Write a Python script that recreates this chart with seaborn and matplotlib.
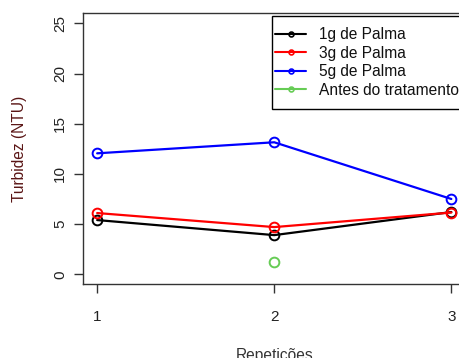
import matplotlib
matplotlib.use("Agg")
import matplotlib.pyplot as plt
import seaborn as sns
import pandas as pd
from matplotlib.lines import Line2D
from matplotlib.patches import Rectangle

sns.set_theme(style="white")
plt.rcParams['font.family'] = ['Liberation Sans', 'DejaVu Sans']

repeticoes = [1, 2, 3]
palma_1g = [5.4, 3.9, 6.2]
palma_3g = [6.1, 4.7, 6.15]
palma_5g = [12.05, 13.15, 7.5]
antes_x = [2]
antes = [1.2]

series_names = ["1g de Palma", "3g de Palma", "5g de Palma", "Antes do tratamento"]
series_colors = ["#000000", "#ff0000", "#0000ff", "#66cc55"]

W, H = 459, 358
fig = plt.figure(figsize=(4.59, 3.58), dpi=100)
ax = fig.add_axes([83 / W, (H - 284.3) / H, (465.5 - 83) / W, (284.3 - 13.3) / H])

data = [(repeticoes, palma_1g), (repeticoes, palma_3g), (repeticoes, palma_5g), (antes_x, antes)]
for (xs, ys), name, col in zip(data, series_names, series_colors):
    df = pd.DataFrame({"x": xs, "y": ys})
    sns.lineplot(data=df, x="x", y="y", ax=ax, color=col, lw=1.6,
                 marker="o", markersize=7, markerfacecolor="none",
                 markeredgecolor=col, markeredgewidth=1.4, legend=False)

ax.set_xlim(0.92, 3.08)
ax.set_ylim(-1, 26)
ax.set_xticks([1, 2, 3])
ax.set_yticks([0, 5, 10, 15, 20, 25])
ax.tick_params(axis="both", direction="out", length=6.5, width=1, color="#333333",
               labelsize=11, labelcolor="#222222", left=True, bottom=True)
ax.tick_params(axis="x", pad=12)
ax.tick_params(axis="y", pad=5)
for lab in ax.get_yticklabels():
    lab.set_rotation(90)
    lab.set_va("center")
for s in ax.spines.values():
    s.set_color("#333333")
    s.set_linewidth(1)

ax.set_xlabel("Repetições", fontsize=11.2, color="#333333", labelpad=17)
ax.set_ylabel("Turbidez (NTU)", fontsize=11.2, color="#5a1515", labelpad=19)

# legend box (R-style: extends past the right edge)
box = Rectangle((271.7 / W, (H - 109) / H), 0.6, 93.3 / H, transform=fig.transFigure,
                facecolor="white", edgecolor="#000000", linewidth=1, zorder=5, clip_on=False)
fig.add_artist(box)

handles = [Line2D([0], [0], color=c, lw=1.5, marker="o", markersize=3.5,
                  markerfacecolor="none", markeredgecolor=c, markeredgewidth=1.2)
           for c in series_colors]
leg = fig.legend(handles, series_names, loc="upper left",
                 bbox_to_anchor=(275 / W, (H - 27.5) / H),
                 frameon=False, fontsize=11.2,
                 handlelength=2.0, handletextpad=0.85, labelspacing=0.22,
                 borderpad=0, borderaxespad=0)
leg.set_zorder(6)
for t in leg.get_texts():
    t.set_color("#111111")

fig.savefig("out.png", dpi=100)
